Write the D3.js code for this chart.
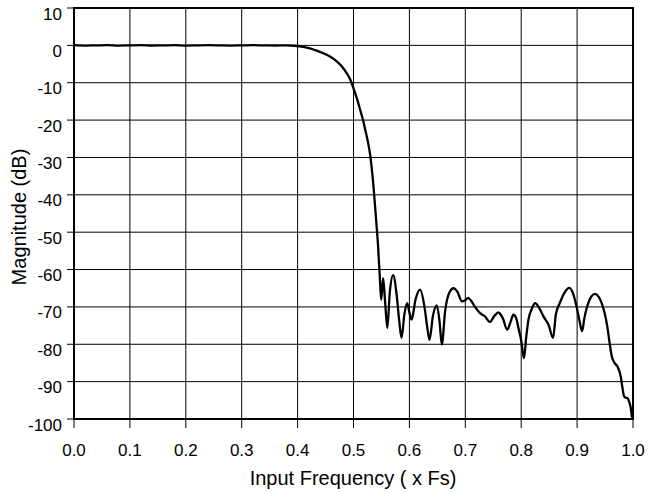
<!DOCTYPE html>
<html>
<head>
<meta charset="utf-8">
<script src="https://cdn.jsdelivr.net/npm/d3@7/dist/d3.min.js"></script>
<style>
  html, body { margin: 0; padding: 0; background: #fff; }
  svg { display: block; font-family: "Liberation Sans", Arial, sans-serif; }
</style>
</head>
<body>
<svg id="chart" width="648" height="493"></svg>
<script>
const xTicks = [0.0, 0.1, 0.2, 0.3, 0.4, 0.5, 0.6, 0.7, 0.8, 0.9, 1.0];
const xTickLabels = ["0.0", "0.1", "0.2", "0.3", "0.4", "0.5", "0.6", "0.7", "0.8", "0.9", "1.0"];
const yTicks = [10, 0, -10, -20, -30, -40, -50, -60, -70, -80, -90, -100];
const yTickLabels = ["10", "0", "-10", "-20", "-30", "-40", "-50", "-60", "-70", "-80", "-90", "-100"];
const xTitle = "Input Frequency ( x Fs)";
const yTitle = "Magnitude (dB)";

// Frequency (x Fs) and magnitude (dB)
const freq = [
  0.000, 0.020, 0.040, 0.060, 0.080, 0.100, 0.120, 0.140, 0.160, 0.180, 0.200,
  0.220, 0.240, 0.260, 0.280, 0.300, 0.320, 0.340, 0.360, 0.380, 0.395,
  0.410, 0.422, 0.434, 0.446, 0.458, 0.470, 0.480, 0.488, 0.495, 0.500,
  0.506, 0.512, 0.517, 0.521, 0.526, 0.530, 0.535, 0.540, 0.544, 0.547,
  0.5495, 0.553, 0.5565, 0.5605, 0.565, 0.571, 0.577, 0.582, 0.586, 0.591,
  0.596, 0.600, 0.604, 0.611, 0.619, 0.627, 0.632, 0.636, 0.642, 0.649,
  0.654, 0.658, 0.664, 0.672, 0.679, 0.686, 0.694, 0.700, 0.705, 0.711,
  0.717, 0.726, 0.735, 0.744, 0.752, 0.759, 0.767, 0.775, 0.781, 0.786,
  0.791, 0.795, 0.800, 0.805, 0.809, 0.813, 0.819, 0.825, 0.833, 0.840,
  0.849, 0.857, 0.862, 0.869, 0.877, 0.886, 0.893, 0.899, 0.904, 0.909,
  0.913, 0.918, 0.925, 0.932, 0.938, 0.944, 0.949, 0.954, 0.958, 0.962,
  0.967, 0.972, 0.978, 0.981, 0.984, 0.987, 0.990, 0.993, 0.996, 0.998, 1.000
];
const magnitude = [
  0.05, -0.05, 0.0, 0.04, -0.05, 0.0, 0.05, -0.04, 0.0, 0.05, -0.05,
  0.0, 0.04, 0.0, -0.05, 0.0, 0.05, 0.0, -0.04, 0.0, -0.1,
  -0.4, -0.8, -1.4, -2.1, -3.0, -4.3, -5.8, -7.5, -9.4, -11.5,
  -14.2, -17.3, -20.0, -22.6, -26.0, -29.5, -36.5, -45.8, -53.8, -61.8,
  -68.1, -62.3, -68.5, -75.6, -66.0, -61.5, -66.5, -74.0, -78.3, -72.0,
  -69.0, -71.5, -73.4, -68.0, -65.4, -70.0, -75.5, -78.8, -72.5, -69.6,
  -74.0, -80.1, -71.0, -66.0, -65.0, -66.0, -68.5, -68.2, -67.6, -68.5,
  -69.9, -71.6, -72.5, -74.0, -72.4, -71.5, -73.0, -76.1, -74.0, -72.1,
  -73.0, -75.6, -79.0, -83.7, -78.0, -73.4, -70.5, -69.0, -70.5, -72.6,
  -74.8, -78.3, -72.0, -69.0, -66.3, -64.9, -66.5, -69.9, -73.5, -76.5,
  -73.0, -69.9, -67.3, -66.5, -67.2, -69.0, -71.5, -75.2, -79.5, -83.2,
  -85.0, -85.9, -88.6, -91.5, -93.9, -94.3, -94.4, -95.3, -97.0, -99.3, -99.9
];

const svg = d3.select("#chart");
const L = 74, R = 633, T = 8, B = 419;
const x = d3.scaleLinear().domain([0, 1]).range([L, R]);
const y = d3.scaleLinear().domain([-100, 10]).range([B, T]);

// grid + tick marks (grid lines extend outside as ticks)
const g = svg.append("g");
g.selectAll(".vgrid").data(xTicks).enter().append("line")
  .attr("x1", d => x(d)).attr("x2", d => x(d))
  .attr("y1", T).attr("y2", B + 9)
  .attr("stroke", "#000").attr("stroke-width", 1);
g.selectAll(".hgrid").data(yTicks).enter().append("line")
  .attr("x1", L - 7).attr("x2", R)
  .attr("y1", d => y(d)).attr("y2", d => y(d))
  .attr("stroke", "#000").attr("stroke-width", 1);

// frame
svg.append("rect")
  .attr("x", L).attr("y", T).attr("width", R - L).attr("height", B - T)
  .attr("fill", "none").attr("stroke", "#000").attr("stroke-width", 2);

// tick labels
svg.selectAll(".ylab").data(yTicks).enter().append("text")
  .attr("x", 62).attr("y", d => y(d) + 6)
  .attr("text-anchor", "end").attr("dominant-baseline", "central")
  .attr("font-size", "17px").attr("fill", "#000")
  .text((d, i) => yTickLabels[i]);
svg.selectAll(".xlab").data(xTicks).enter().append("text")
  .attr("x", d => x(d)).attr("y", 450)
  .attr("text-anchor", "middle").attr("dominant-baseline", "central")
  .attr("font-size", "17px").attr("fill", "#000")
  .text((d, i) => xTickLabels[i]);

// axis titles
svg.append("text")
  .attr("x", 353).attr("y", 478)
  .attr("text-anchor", "middle").attr("dominant-baseline", "central")
  .attr("font-size", "20px").attr("fill", "#000")
  .text(xTitle);
svg.append("text")
  .attr("transform", "translate(19," + 217 + ") rotate(-90)")
  .attr("text-anchor", "middle").attr("dominant-baseline", "central")
  .attr("font-size", "20px").attr("fill", "#000")
  .text(yTitle);

// curve
const pts = freq.map((f, i) => [f, magnitude[i]]);
const line = d3.line().x(d => x(d[0])).y(d => y(d[1])).curve(d3.curveMonotoneX);
svg.append("path").datum(pts)
  .attr("d", line)
  .attr("fill", "none").attr("stroke", "#000").attr("stroke-width", 2.3)
  .attr("stroke-linejoin", "round");
</script>
</body>
</html>
